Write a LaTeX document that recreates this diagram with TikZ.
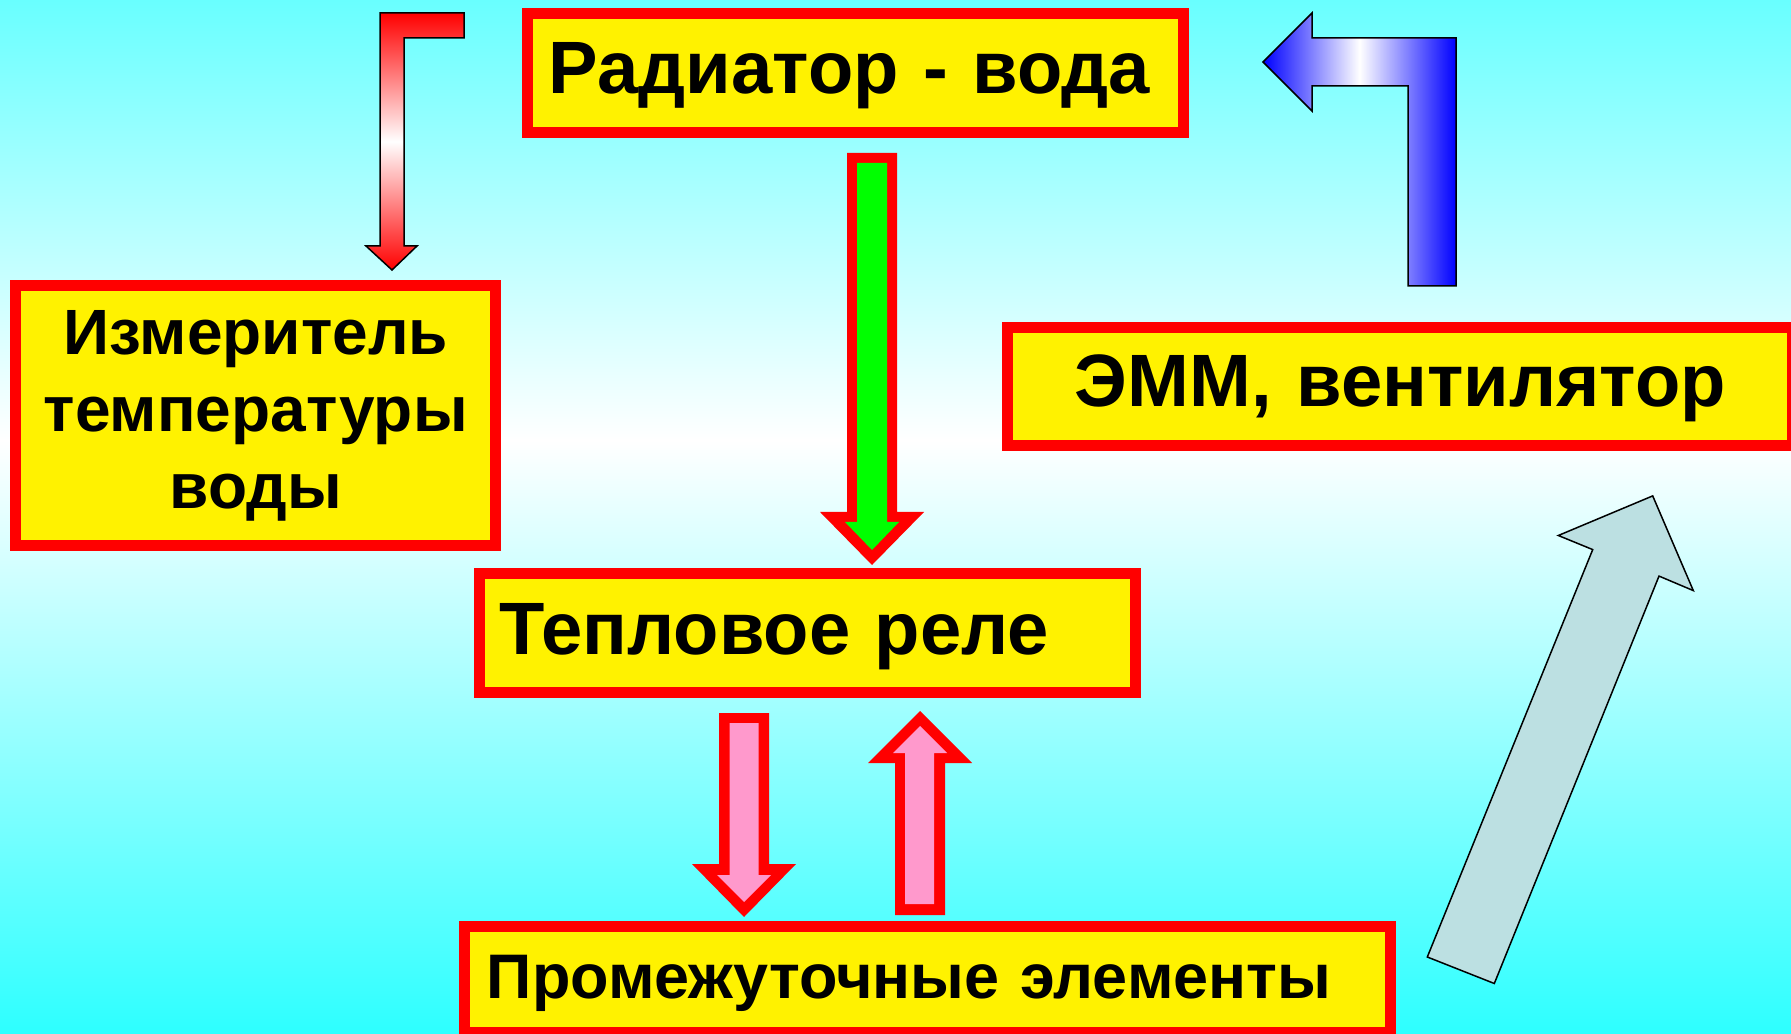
\documentclass[tikz,border=0pt]{standalone}
\usepackage{fontspec}
\setmainfont{Liberation Sans}
\definecolor{bgtop}{RGB}{105,255,255}
\definecolor{bgbot}{RGB}{45,255,255}
\definecolor{pinkfill}{RGB}{255,153,204}
\definecolor{greenfill}{RGB}{0,255,0}
\definecolor{diagfill}{RGB}{188,224,226}
\begin{document}
\begin{tikzpicture}[x=0.01cm, y=-0.01cm,
  box/.style={draw=red, fill=yellow, line width=0.11cm, inner ysep=0pt},
  bigtext/.style={font=\bfseries\fontsize{21.1pt}{25pt}\selectfont},
  outlined/.style={draw=black, line width=0.015cm, line join=miter}]
\useasboundingbox (0,0) rectangle (1791,1034);
% background
\shade[top color=bgtop, bottom color=white] (0,0) rectangle (1791,441);
\shade[top color=white, bottom color=bgbot] (0,440) rectangle (1791,1034);

% boxes
\node[box, bigtext, align=left, inner xsep=0.215cm, text width=6.13cm,
      text height=0.792cm, text depth=0.395cm] (rad) at (855.5,73.15) {Радиатор - вода};
\node[box, align=center, inner xsep=0.1cm, text width=4.595cm, minimum height=2.595cm,
      font=\bfseries\fontsize{18.2pt}{21.9pt}\selectfont] (meas) at (255.75,415.75)
      {Измеритель\\температуры\\воды};
\node[box, bigtext, align=center, inner xsep=0.2cm, text width=7.443cm,
      text height=0.795cm, text depth=0.385cm] (emm) at (1400.35,386.2) {ЭММ, вентилятор};
\node[box, bigtext, align=left, inner xsep=0.199cm, text width=6.156cm,
      text height=0.805cm, text depth=0.385cm] (therm) at (807.8,633) {Тепловое реле};
\node[box, align=left, inner xsep=0.2275cm, text width=8.8075cm,
      text height=0.718cm, text depth=0.342cm,
      font=\bfseries\fontsize{17.9pt}{21pt}\selectfont] (inter) at (927.4,979.2) {Промежуточные элементы};

% red gradient bent arrow (to the meter)
\shadedraw[outlined, top color=red, bottom color=red, middle color=white]
  (380,13) -- (464,13) -- (464,38) -- (404,38) -- (404,246) -- (417,246)
  -- (392,270) -- (366,246) -- (380,246) -- cycle;

% blue gradient bent arrow (from fan back to radiator)
\shadedraw[outlined, left color=blue, right color=blue, middle color=white]
  (1263,62) -- (1312,13) -- (1312,38) -- (1456,38) -- (1456,286) -- (1408,286)
  -- (1408,86) -- (1312,86) -- (1312,111) -- cycle;

% green arrow radiator -> relay
\fill[red] (847,153) -- (897,153) -- (897,512) -- (924,512) -- (872,565)
  -- (820,512) -- (847,512) -- cycle;
\fill[greenfill] (857,163) -- (887,163) -- (887,522) -- (899,522) -- (872,550)
  -- (845,522) -- (857,522) -- cycle;

% pink arrow relay -> intermediate
\fill[red] (719,713) -- (769,713) -- (769,864) -- (796,864) -- (744,917)
  -- (692,864) -- (719,864) -- cycle;
\fill[pinkfill] (729.5,723) -- (758.5,723) -- (758.5,875) -- (771,875) -- (744,902)
  -- (717,875) -- (729.5,875) -- cycle;

% pink arrow intermediate -> relay
\fill[red] (895,915) -- (945,915) -- (945,763) -- (972,763) -- (920,711)
  -- (868,763) -- (895,763) -- cycle;
\fill[pinkfill] (905,904) -- (934,904) -- (934,753) -- (947,753) -- (920,726)
  -- (893,753) -- (905,753) -- cycle;

% diagonal arrow intermediate -> fan
\filldraw[outlined, fill=diagfill]
  (1427.3,957) -- (1592.7,549.6) -- (1558.3,535.5) -- (1652.7,495.9)
  -- (1693.3,590.6) -- (1659,576.1) -- (1494.3,983.5) -- cycle;
\end{tikzpicture}
\end{document}
